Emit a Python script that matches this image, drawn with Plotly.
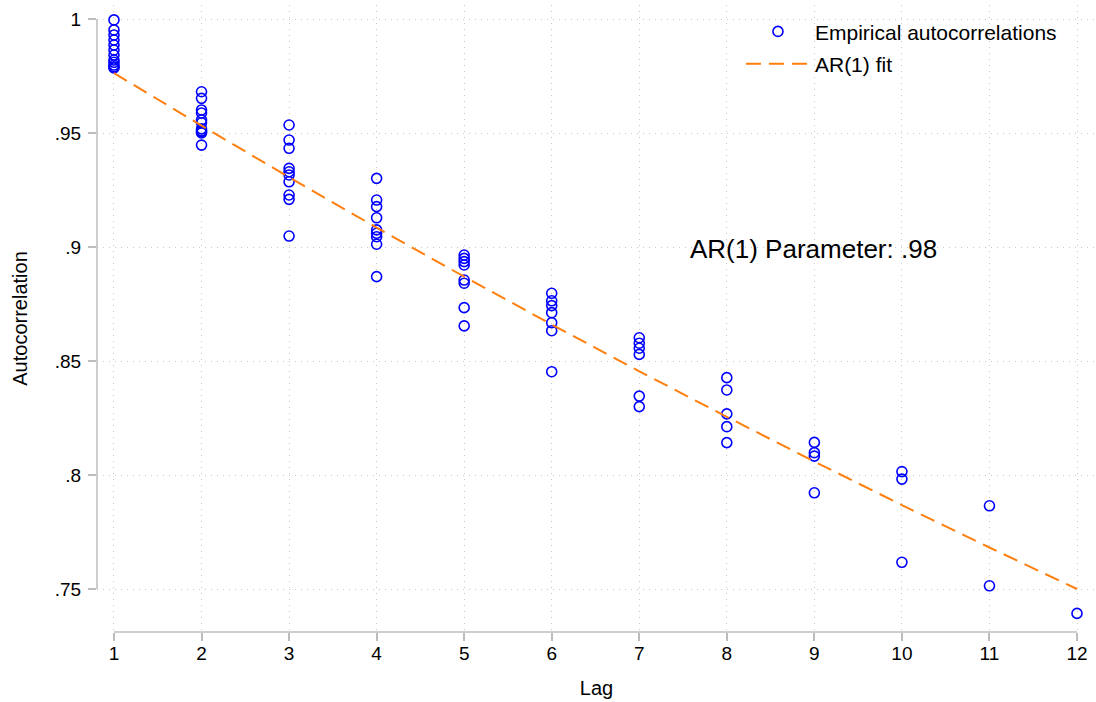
import plotly.graph_objects as go

# Empirical autocorrelations, grouped by lag
lag1 = [0.9996, 0.9952, 0.9930, 0.9908, 0.9886, 0.9864, 0.9842, 0.9820, 0.9810, 0.9798, 0.9790, 0.9785]
lag2 = [0.9681, 0.9652, 0.9601, 0.9588, 0.9557, 0.9545, 0.9518, 0.9510, 0.9506, 0.9500, 0.9447]
lag3 = [0.9535, 0.9469, 0.9433, 0.9345, 0.9330, 0.9316, 0.9286, 0.9228, 0.9209, 0.9048]
lag4 = [0.9301, 0.9206, 0.9177, 0.9128, 0.9075, 0.9060, 0.9045, 0.9012, 0.8870]
lag5 = [0.8965, 0.8950, 0.8936, 0.8921, 0.8855, 0.8841, 0.8734, 0.8654]
lag6 = [0.8797, 0.8764, 0.8743, 0.8712, 0.8668, 0.8633, 0.8453]
lag7 = [0.8602, 0.8578, 0.8556, 0.8529, 0.8346, 0.8300]
lag8 = [0.8427, 0.8373, 0.8268, 0.8212, 0.8142]
lag9 = [0.8143, 0.8098, 0.8083, 0.7922]
lag10 = [0.8015, 0.7982, 0.7617]
lag11 = [0.7865, 0.7514]
lag12 = [0.7393]
empirical = [lag1, lag2, lag3, lag4, lag5, lag6, lag7, lag8, lag9, lag10, lag11, lag12]

# AR(1) fit values at each lag
fit_lags = [1, 2, 3, 4, 5, 6, 7, 8, 9, 10, 11, 12]
fit_vals = [0.9763, 0.9532, 0.9306, 0.9085, 0.8870, 0.8660, 0.8455, 0.8255, 0.8059, 0.7868, 0.7682, 0.7500]

y_ticks = [0.75, 0.80, 0.85, 0.90, 0.95, 1.00]
y_ticklabels = [".75", ".8", ".85", ".9", ".95", "1"]
x_ticks = fit_lags

ar_label = "AR(1) Parameter: .98"

emp_x, emp_y = [], []
for k, vals in enumerate(empirical, start=1):
    emp_x += [k] * len(vals)
    emp_y += vals

FONT = "Liberation Sans, Arial, sans-serif"
GRID = "#c8c8c8"
AXIS = "#bdbdbd"

fig = go.Figure()
fig.add_trace(go.Scatter(
    x=emp_x, y=emp_y, mode="markers", name="Empirical autocorrelations",
    legendgroup="a",
    marker=dict(symbol="circle-open", size=10, color="#0000ff", line=dict(width=1.6, color="#0000ff")),
))
fig.add_trace(go.Scatter(
    x=fit_lags, y=fit_vals, mode="lines", name="AR(1) fit",
    legendgroup="b",
    line=dict(color="#ff7f0e", width=2, dash="15px,8px"),
))

fig.add_annotation(x=7.556, y=0.899, text=ar_label, showarrow=False,
                   xanchor="left", yanchor="middle",
                   font=dict(family=FONT, size=26, color="#000"))

# axis lines spanning only the tick range
fig.add_shape(type="line", xref="paper", yref="y", x0=0, x1=0, y0=0.75, y1=1.0,
              line=dict(color=AXIS, width=1.5))
fig.add_shape(type="line", xref="x", yref="paper", x0=1, x1=12, y0=0, y1=0,
              line=dict(color=AXIS, width=1.5))

fig.update_layout(
    width=1096, height=702,
    margin=dict(l=97, r=0, t=5, b=70),
    paper_bgcolor="white", plot_bgcolor="white",
    font=dict(family=FONT, size=19, color="#000"),
    showlegend=True,
    legend=dict(x=0.6446, y=0.99, xanchor="left", yanchor="top",
                font=dict(family=FONT, size=21), bgcolor="rgba(0,0,0,0)",
                tracegroupgap=2, itemwidth=64),
    xaxis=dict(range=[0.806, 12.217], tickvals=x_ticks, ticktext=[str(v) for v in x_ticks],
               showgrid=True, gridcolor=GRID, griddash="1px,5px", gridwidth=1,
               zeroline=False, showline=False,
               ticks="outside", ticklen=8, tickcolor=AXIS, tickwidth=1.5,
               tickfont=dict(size=19), ticklabelstandoff=-4,
               title=dict(text="Lag", font=dict(size=20), standoff=18)),
    yaxis=dict(range=[0.73114, 1.00614], tickvals=y_ticks, ticktext=y_ticklabels,
               showgrid=True, gridcolor=GRID, griddash="1px,5px", gridwidth=1,
               zeroline=False, showline=False,
               ticks="outside", ticklen=8, tickcolor=AXIS, tickwidth=1.5,
               tickfont=dict(size=19), ticklabelstandoff=3,
               title=dict(text="Autocorrelation", font=dict(size=20), standoff=21)),
)

fig.write_html("out.html")
